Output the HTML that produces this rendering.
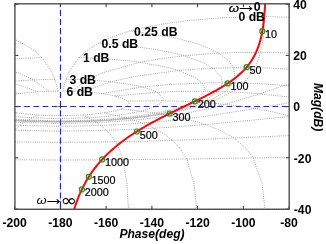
<!DOCTYPE html>
<html><head><meta charset="utf-8"><title>Nichols chart</title>
<style>
html,body{margin:0;padding:0;background:#fff;}
body{width:326px;height:244px;overflow:hidden;font-family:"Liberation Sans",sans-serif;}
svg{display:block}
text{font-family:"Liberation Sans",sans-serif;fill:#000}
.b{font-weight:bold;font-size:12.2px}
.r{font-size:10.8px;stroke:#000;stroke-width:0.2px}
.bi{font-weight:bold;font-style:italic;font-size:12.1px}
</style></head><body>
<svg width="326" height="244" viewBox="0 0 326 244">
<defs><clipPath id="c"><rect x="14.9" y="3.8" width="274.3" height="205.5"/></clipPath></defs>
<rect width="326" height="244" fill="#fff"/>

<g clip-path="url(#c)" fill="none" stroke="#8a8a8a" stroke-width="0.85" stroke-dasharray="0.9 1.3">
<path d="M58.1 91.2 L54.9 79.3 L51.6 71.5 L41.8 57.5 L35.4 51.6 L22.9 43.5 L14.1 39.1 L0.2 33.9 L-9.9 30.9 L-23.5 27.5 L-42.1 24.0 L-67.9 20.5 L-102.6 17.7 L-144.3 16.6 L-186.0 17.8 L-220.7 20.7 L-246.5 24.4 L-265.1 28.1 L-278.7 31.5 L-288.8 34.7 L-302.7 40.2 L-311.6 44.8 L-324.0 53.6 L-330.4 60.1 L-340.2 76.6 L-343.5 87.0 L-345.1 94.7 L-346.1 101.1 L-346.7 106.5 L-347.7 119.9 L-348.2 130.9 L-348.6 143.8 L-348.7 155.5 L-348.9 182.7 L-349.0 208.8"/>
<path d="M62.7 91.2 L65.9 79.3 L69.2 71.5 L79.0 57.5 L85.4 51.6 L97.8 43.5 L106.7 39.1 L120.6 33.9 L130.7 30.9 L144.2 27.5 L162.9 24.0 L188.7 20.5 L223.3 17.7 L265.1 16.6 L306.8 17.8 L341.5 20.7 L367.3 24.4 L385.9 28.1 L399.5 31.5 L409.6 34.7 L423.4 40.2 L432.3 44.8 L444.8 53.6 L451.2 60.1 L461.0 76.6 L464.2 87.0 L465.9 94.7 L466.8 101.1 L467.5 106.5 L468.5 119.9 L469.0 130.9 L469.3 143.8 L469.5 155.5 L469.7 182.7 L469.8 208.8"/>
<path d="M49.0 91.3 L33.4 79.9 L18.4 72.9 L-19.0 62.3 L-37.6 59.0 L-63.4 55.8 L-76.1 54.6 L-90.4 53.6 L-98.0 53.2 L-105.9 52.9 L-114.1 52.6 L-122.6 52.4 L-131.1 52.4 L-139.7 52.4 L-148.4 52.5 L-156.9 52.7 L-165.3 53.0 L-173.5 53.4 L-181.4 53.8 L-189.1 54.4 L-203.3 55.6 L-216.1 57.0 L-241.9 60.9 L-260.5 64.9 L-297.9 78.1 L-312.8 87.6 L-320.6 95.1 L-325.3 101.3 L-328.4 106.7 L-333.6 120.0 L-336.0 131.0 L-337.7 143.8 L-338.6 155.5 L-339.5 182.7 L-339.7 208.8"/>
<path d="M71.8 91.3 L87.4 79.9 L102.4 72.9 L139.8 62.3 L158.4 59.0 L184.2 55.8 L196.9 54.6 L211.2 53.6 L218.8 53.2 L226.7 52.9 L234.9 52.6 L243.3 52.4 L251.9 52.4 L260.5 52.4 L269.1 52.5 L277.7 52.7 L286.1 53.0 L294.3 53.4 L302.2 53.8 L309.9 54.4 L324.1 55.6 L336.9 57.0 L362.7 60.9 L381.2 64.9 L418.7 78.1 L433.6 87.6 L441.4 95.1 L446.1 101.3 L449.2 106.7 L454.4 120.0 L456.8 131.0 L458.5 143.8 L459.4 155.5 L460.3 182.7 L460.5 208.8"/>
<path d="M38.1 91.8 L9.9 81.8 L-13.6 76.5 L-57.8 70.5 L-74.0 69.3 L-92.4 68.3 L-100.3 68.0 L-108.5 67.8 L-112.6 67.8 L-116.9 67.7 L-121.1 67.7 L-125.4 67.7 L-129.7 67.7 L-134.0 67.8 L-138.3 67.8 L-142.6 67.9 L-146.9 68.1 L-151.2 68.2 L-155.4 68.4 L-159.5 68.6 L-167.7 69.0 L-175.6 69.6 L-194.0 71.2 L-210.2 73.1 L-254.4 81.6 L-277.9 89.4 L-291.5 96.2 L-300.2 102.0 L-306.1 107.2 L-316.0 120.2 L-320.8 131.1 L-324.1 143.8 L-325.9 155.5 L-327.7 182.7 L-328.2 208.8"/>
<path d="M82.7 91.8 L110.9 81.8 L134.4 76.5 L178.6 70.5 L194.8 69.3 L213.2 68.3 L221.1 68.0 L229.3 67.8 L233.4 67.8 L237.6 67.7 L241.9 67.7 L246.2 67.7 L250.5 67.7 L254.8 67.8 L259.1 67.8 L263.4 67.9 L267.7 68.1 L271.9 68.2 L276.2 68.4 L280.3 68.6 L288.5 69.0 L296.4 69.6 L314.8 71.2 L331.0 73.1 L375.2 81.6 L398.7 89.4 L412.3 96.2 L421.0 102.0 L426.9 107.2 L436.8 120.2 L441.6 131.1 L444.9 143.8 L446.7 155.5 L448.5 182.7 L449.0 208.8"/>
<path d="M19.3 93.6 L-21.7 87.0 L-47.0 84.6 L-81.3 83.0 L-91.1 82.8 L-101.4 82.8 L-105.6 82.8 L-109.8 82.8 L-111.9 82.9 L-114.0 82.9 L-116.2 82.9 L-118.3 83.0 L-120.4 83.0 L-122.6 83.1 L-124.7 83.2 L-126.9 83.2 L-129.0 83.3 L-131.1 83.4 L-133.2 83.5 L-135.4 83.6 L-139.6 83.8 L-143.8 84.0 L-154.0 84.7 L-163.9 85.5 L-198.1 89.7 L-223.5 94.6 L-241.7 99.6 L-254.8 104.4 L-264.5 108.9 L-281.9 121.0 L-290.9 131.5 L-297.2 144.1 L-300.6 155.7 L-304.1 182.8 L-305.1 208.8"/>
<path d="M101.5 93.6 L142.5 87.0 L167.8 84.6 L202.1 83.0 L211.9 82.8 L222.2 82.8 L226.3 82.8 L230.6 82.8 L232.7 82.9 L234.8 82.9 L236.9 82.9 L239.1 83.0 L241.2 83.0 L243.4 83.1 L245.5 83.2 L247.6 83.2 L249.8 83.3 L251.9 83.4 L254.0 83.5 L256.2 83.6 L260.4 83.8 L264.6 84.0 L274.8 84.7 L284.7 85.5 L318.9 89.7 L344.3 94.6 L362.5 99.6 L375.6 104.4 L385.3 108.9 L402.7 121.0 L411.7 131.5 L418.0 144.1 L421.4 155.7 L424.9 182.8 L425.9 208.8"/>
<path d="M5.8 96.0 L-36.7 92.3 L-58.2 91.4 L-83.4 91.2 L-90.2 91.3 L-97.1 91.5 L-99.9 91.6 L-102.7 91.6 L-104.1 91.7 L-105.5 91.7 L-106.9 91.8 L-108.3 91.9 L-109.7 91.9 L-111.1 92.0 L-112.5 92.0 L-114.0 92.1 L-115.4 92.2 L-116.8 92.3 L-118.2 92.3 L-119.6 92.4 L-122.4 92.6 L-125.2 92.8 L-132.1 93.2 L-138.8 93.8 L-164.1 96.6 L-185.6 99.9 L-203.0 103.7 L-217.0 107.5 L-228.0 111.3 L-249.8 122.2 L-261.8 132.2 L-270.7 144.4 L-275.5 155.9 L-280.5 182.8 L-282.0 208.9"/>
<path d="M115.0 96.0 L157.5 92.3 L179.0 91.4 L204.2 91.2 L211.0 91.3 L217.9 91.5 L220.7 91.6 L223.5 91.6 L224.9 91.7 L226.3 91.7 L227.7 91.8 L229.1 91.9 L230.5 91.9 L231.9 92.0 L233.3 92.0 L234.7 92.1 L236.1 92.2 L237.5 92.3 L239.0 92.3 L240.4 92.4 L243.2 92.6 L245.9 92.8 L252.8 93.2 L259.6 93.8 L284.9 96.6 L306.4 99.9 L323.8 103.7 L337.8 107.5 L348.8 111.3 L370.6 122.2 L382.6 132.2 L391.5 144.4 L396.3 155.9 L401.3 182.8 L402.8 208.9"/>
<path d="M-7.1 101.1 L-42.2 100.8 L-56.7 101.1 L-72.2 101.8 L-76.2 102.0 L-80.2 102.3 L-81.8 102.4 L-83.4 102.5 L-84.2 102.6 L-85.0 102.6 L-85.8 102.7 L-86.7 102.8 L-87.5 102.8 L-88.3 102.9 L-89.1 102.9 L-89.9 103.0 L-90.7 103.1 L-91.5 103.1 L-92.3 103.2 L-93.1 103.3 L-94.7 103.4 L-96.3 103.6 L-100.4 104.0 L-104.3 104.4 L-119.9 106.2 L-134.3 108.5 L-147.5 110.9 L-159.2 113.6 L-169.4 116.4 L-192.6 125.2 L-207.4 134.0 L-219.3 145.4 L-226.2 156.4 L-233.7 183.0 L-235.9 208.9"/>
<path d="M127.9 101.1 L163.0 100.8 L177.5 101.1 L193.0 101.8 L197.0 102.0 L201.0 102.3 L202.6 102.4 L204.2 102.5 L205.0 102.6 L205.8 102.6 L206.6 102.7 L207.4 102.8 L208.2 102.8 L209.1 102.9 L209.9 102.9 L210.7 103.0 L211.5 103.1 L212.3 103.1 L213.1 103.2 L213.9 103.3 L215.5 103.4 L217.1 103.6 L221.1 104.0 L225.1 104.4 L240.6 106.2 L255.1 108.5 L268.3 110.9 L279.9 113.6 L290.2 116.4 L313.3 125.2 L328.2 134.0 L340.1 145.4 L347.0 156.4 L354.5 183.0 L356.7 208.9"/>
<path d="M-0.5 109.1 L-20.3 111.1 L-27.6 112.1 L-35.0 113.1 L-36.9 113.4 L-38.8 113.7 L-39.5 113.8 L-40.3 114.0 L-40.6 114.0 L-41.0 114.1 L-41.4 114.1 L-41.8 114.2 L-42.1 114.3 L-42.5 114.3 L-42.9 114.4 L-43.3 114.5 L-43.7 114.5 L-44.0 114.6 L-44.4 114.7 L-44.8 114.7 L-45.5 114.9 L-46.3 115.0 L-48.2 115.3 L-50.1 115.7 L-57.5 117.2 L-64.7 118.8 L-71.7 120.6 L-78.3 122.5 L-84.6 124.5 L-100.8 131.0 L-113.2 138.0 L-124.8 147.9 L-132.4 157.9 L-141.3 183.5 L-144.1 209.1"/>
<path d="M121.3 109.1 L141.1 111.1 L148.4 112.1 L155.8 113.1 L157.7 113.4 L159.5 113.7 L160.3 113.8 L161.0 114.0 L161.4 114.0 L161.8 114.1 L162.2 114.1 L162.6 114.2 L162.9 114.3 L163.3 114.3 L163.7 114.4 L164.1 114.5 L164.4 114.5 L164.8 114.6 L165.2 114.7 L165.6 114.7 L166.3 114.9 L167.1 115.0 L169.0 115.3 L170.8 115.7 L178.3 117.2 L185.5 118.8 L192.5 120.6 L199.1 122.5 L205.3 124.5 L221.6 131.0 L234.0 138.0 L245.6 147.9 L253.2 157.9 L262.1 183.5 L264.9 209.1"/>
<path d="M16.6 112.9 L4.7 115.4 L0.4 116.5 L-3.9 117.6 L-5.0 117.9 L-6.0 118.2 L-6.5 118.3 L-6.9 118.5 L-7.1 118.5 L-7.3 118.6 L-7.6 118.7 L-7.8 118.7 L-8.0 118.8 L-8.2 118.8 L-8.4 118.9 L-8.7 119.0 L-8.9 119.0 L-9.1 119.1 L-9.3 119.2 L-9.5 119.2 L-10.0 119.4 L-10.4 119.5 L-11.5 119.8 L-12.6 120.2 L-16.9 121.6 L-21.1 123.1 L-25.2 124.7 L-29.2 126.4 L-33.1 128.2 L-43.4 134.0 L-51.8 140.4 L-60.3 149.5 L-66.0 159.0 L-73.3 183.8 L-75.7 209.2"/>
<path d="M104.2 112.9 L116.1 115.4 L120.3 116.5 L124.7 117.6 L125.7 117.9 L126.8 118.2 L127.3 118.3 L127.7 118.5 L127.9 118.5 L128.1 118.6 L128.4 118.7 L128.6 118.7 L128.8 118.8 L129.0 118.8 L129.2 118.9 L129.4 119.0 L129.7 119.0 L129.9 119.1 L130.1 119.2 L130.3 119.2 L130.7 119.4 L131.2 119.5 L132.3 119.8 L133.4 120.2 L137.7 121.6 L141.9 123.1 L146.0 124.7 L150.0 126.4 L153.8 128.2 L164.2 134.0 L172.6 140.4 L181.0 149.5 L186.8 159.0 L194.1 183.8 L196.5 209.2"/>
<path d="M37.7 115.0 L32.1 117.8 L30.1 118.9 L28.1 120.0 L27.6 120.3 L27.1 120.6 L26.9 120.8 L26.7 120.9 L26.6 121.0 L26.5 121.0 L26.4 121.1 L26.3 121.1 L26.2 121.2 L26.1 121.3 L26.0 121.3 L25.9 121.4 L25.8 121.5 L25.7 121.5 L25.6 121.6 L25.5 121.7 L25.3 121.8 L25.1 121.9 L24.6 122.3 L24.1 122.6 L22.1 124.0 L20.1 125.5 L18.2 127.0 L16.3 128.6 L14.4 130.3 L9.5 135.8 L5.2 141.8 L0.9 150.5 L-2.2 159.7 L-6.2 184.0 L-7.6 209.2"/>
<path d="M83.1 115.0 L88.7 117.8 L90.7 118.9 L92.7 120.0 L93.2 120.3 L93.7 120.6 L93.9 120.8 L94.1 120.9 L94.2 121.0 L94.3 121.0 L94.4 121.1 L94.5 121.1 L94.6 121.2 L94.7 121.3 L94.8 121.3 L94.9 121.4 L95.0 121.5 L95.1 121.5 L95.2 121.6 L95.3 121.7 L95.5 121.8 L95.7 121.9 L96.2 122.3 L96.7 122.6 L98.7 124.0 L100.7 125.5 L102.6 127.0 L104.5 128.6 L106.3 130.3 L111.3 135.8 L115.5 141.8 L119.9 150.5 L123.0 159.7 L127.0 184.0 L128.4 209.2"/>
<path d="M60.4 115.7 L60.4 118.5 L60.4 119.6 L60.4 120.8 L60.4 121.1 L60.4 121.4 L60.4 121.5 L60.4 121.7 L60.4 121.7 L60.4 121.8 L60.4 121.9 L60.4 121.9 L60.4 122.0 L60.4 122.0 L60.4 122.1 L60.4 122.2 L60.4 122.2 L60.4 122.3 L60.4 122.4 L60.4 122.4 L60.4 122.6 L60.4 122.7 L60.4 123.0 L60.4 123.4 L60.4 124.7 L60.4 126.2 L60.4 127.7 L60.4 129.4 L60.4 131.0 L60.4 136.4 L60.4 142.3 L60.4 150.9 L60.4 160.0 L60.4 184.1 L60.4 209.3"/>
<path d="M58.1 91.2 L55.8 91.2 L53.5 91.2 L51.2 91.3 L49.0 91.3 L43.4 91.5 L38.1 91.8 L28.1 92.6 L19.3 93.6 L11.9 94.7 L5.8 96.0 L-5.4 99.8 L-8.4 103.4 L-6.1 106.5 L-0.5 109.1 L7.3 111.2 L16.6 112.9 L26.9 114.1 L37.7 115.0 L56.6 115.6 L60.4 115.7 L64.2 115.6 L83.1 115.0 L93.9 114.1 L104.2 112.9 L113.4 111.2 L121.3 109.1 L126.9 106.5 L129.2 103.4 L126.2 99.8 L115.0 96.0 L108.9 94.7 L101.5 93.6 L92.7 92.6 L82.7 91.8 L77.3 91.5 L71.8 91.3 L69.5 91.3 L67.3 91.2 L65.0 91.2 L62.7 91.2"/>
<path d="M54.9 79.3 L49.3 79.4 L43.9 79.5 L38.6 79.7 L33.4 79.9 L21.0 80.7 L9.9 81.8 L-8.4 84.2 L-21.7 87.0 L-30.8 89.7 L-36.7 92.3 L-42.7 98.9 L-39.1 104.0 L-30.9 108.0 L-20.3 111.1 L-8.3 113.6 L4.7 115.4 L18.2 116.8 L32.1 117.8 L55.7 118.5 L60.4 118.5 L65.1 118.5 L88.7 117.8 L102.6 116.8 L116.1 115.4 L129.1 113.6 L141.1 111.1 L151.7 108.0 L159.9 104.0 L163.5 98.9 L157.5 92.3 L151.5 89.7 L142.5 87.0 L129.2 84.2 L110.9 81.8 L99.8 80.7 L87.4 79.9 L82.2 79.7 L76.9 79.5 L71.4 79.4 L65.9 79.3"/>
<path d="M41.8 57.5 L24.1 58.3 L7.8 59.4 L-6.6 60.8 L-19.0 62.3 L-42.5 66.5 L-57.8 70.5 L-74.3 77.5"/>
<path d="M-63.8 105.5 L-49.9 109.8 L-35.0 113.1 L-19.6 115.7 L-3.9 117.6 L12.1 119.0 L28.1 120.0 L55.0 120.8 L60.4 120.8 L65.8 120.8 L92.7 120.0 L108.7 119.0 L124.7 117.6 L140.4 115.7 L155.8 113.1 L170.7 109.8 L184.6 105.5 L196.7 99.6 L204.2 91.2 L204.4 87.5 L202.1 83.0 L195.1 77.5 L178.6 70.5 L163.3 66.5 L139.8 62.3 L127.3 60.8 L113.0 59.4 L96.7 58.3 L79.0 57.5"/>
<path d="M22.9 43.5 L-8.8 46.0 L-32.9 49.2 L-50.6 52.5 L-63.4 55.8"/>
<path d="M-70.3 106.0 L-54.8 110.4 L-38.8 113.7 L-22.5 116.3 L-6.0 118.2 L10.5 119.7 L27.1 120.6 L54.8 121.4 L60.4 121.4 L65.9 121.4 L93.7 120.6 L110.3 119.7 L126.8 118.2 L143.3 116.3 L159.5 113.7 L175.6 110.4 L191.1 106.0 L205.7 100.1 L217.9 91.5 L220.7 87.6 L222.2 82.8 L220.9 76.6 L213.2 68.3 L203.4 62.7 L184.2 55.8 L171.3 52.5 L153.7 49.2 L129.6 46.0 L97.8 43.5"/>
<path d="M-9.9 30.9 L-52.8 37.5 L-76.2 43.6"/>
<path d="M-73.6 106.3 L-57.2 110.7 L-40.6 114.0 L-23.9 116.6 L-7.1 118.5 L9.7 120.0 L26.6 121.0 L54.8 121.7 L60.4 121.7 L66.0 121.7 L94.2 121.0 L111.1 120.0 L127.9 118.5 L144.7 116.6 L161.4 114.0 L178.0 110.7 L194.4 106.3 L210.2 100.4 L224.9 91.7 L229.1 87.7 L232.7 82.9 L234.8 76.6 L233.4 67.8 L229.3 61.6 L218.8 53.2 L210.4 48.8 L197.0 43.6 L173.6 37.5 L130.7 30.9"/>
<path d="M-76.8 106.6 L-59.7 111.0 L-42.5 114.3 L-25.4 116.9 L-8.2 118.8 L8.9 120.3 L26.1 121.3 L54.7 122.0 L60.4 122.0 L66.1 122.0 L94.7 121.3 L111.9 120.3 L129.0 118.8 L146.2 116.9 L163.3 114.3 L180.5 111.0 L197.6 106.6 L214.8 100.7 L231.9 92.0 L237.6 88.0 L243.4 83.1 L249.1 76.8 L254.8 67.8 L257.7 61.4 L260.5 52.4 L261.7 47.4 L262.8 41.0 L263.9 32.0 L265.1 16.6"/>
<path d="M-69.5 112.4 L-50.1 115.7 L-31.2 118.2 L-12.6 120.2 L5.8 121.6 L24.1 122.6 L54.3 123.3 L60.4 123.4 L66.4 123.3 L96.7 122.6 L115.0 121.6 L133.4 120.2 L151.9 118.2 L170.8 115.7 L190.3 112.4 L210.6 108.1 L232.8 102.2 L259.6 93.8 L270.9 90.0 L284.7 85.5 L303.0 80.0 L331.0 73.1 L352.0 69.0 L381.2 64.9 L396.0 63.3"/>
<path d="M-64.7 118.8 L-42.5 121.3 L-21.1 123.1 L-0.3 124.5 L20.1 125.5 L53.7 126.2 L60.4 126.2 L67.1 126.2 L100.7 125.5 L121.1 124.5 L141.9 123.1 L163.3 121.3 L185.5 118.8 L209.2 115.7 L235.3 111.7 L266.1 106.6 L306.4 99.9 L323.7 97.4 L344.3 94.6 L368.9 91.9 L398.7 89.4"/>
<path d="M-84.6 124.5 L-58.1 126.6 L-33.1 128.2 L-9.0 129.5 L14.4 130.3 L52.8 131.0 L60.4 131.0 L68.0 131.0 L106.3 130.3 L129.8 129.5 L153.8 128.2 L178.9 126.6 L205.3 124.5 L234.0 121.9 L266.0 118.8 L303.4 115.2 L348.8 111.3 L366.4 110.1 L385.3 108.9 L405.5 107.9"/>
<path d="M-81.8 139.3 L-51.8 140.4 L-22.9 141.2 L5.2 141.8 L51.3 142.3 L60.4 142.3 L69.5 142.3 L115.5 141.8 L143.7 141.2 L172.6 140.4 L202.6 139.3 L234.0 138.0 L267.3 136.6 L302.9 135.0 L341.3 133.5 L382.6 132.2 L397.0 131.8"/>
<path d="M-66.0 159.0 L-33.9 159.4 L-2.2 159.7 L50.0 160.0 L60.4 160.0 L70.8 160.0 L123.0 159.7 L154.7 159.4 L186.8 159.0 L219.6 158.5 L253.2 157.9 L287.6 157.4 L322.9 156.8 L359.2 156.3 L396.3 155.9"/>
<path d="M-75.7 209.2 L-41.6 209.2 L-7.6 209.2 L49.1 209.3 L60.4 209.3 L71.7 209.3 L128.4 209.2 L162.4 209.2 L196.5 209.2 L230.7 209.1 L264.9 209.1 L299.3 209.0 L333.7 208.9 L368.2 208.9 L402.8 208.9"/>
</g>
<path d="M14.7 209.3 v-3.4 M14.7 3.8 v3.4 M60.4 209.3 v-3.4 M60.4 3.8 v3.4 M106.1 209.3 v-3.4 M106.1 3.8 v3.4 M151.9 209.3 v-3.4 M151.9 3.8 v3.4 M197.6 209.3 v-3.4 M197.6 3.8 v3.4 M243.4 209.3 v-3.4 M243.4 3.8 v3.4 M289.1 209.3 v-3.4 M289.1 3.8 v3.4 M14.9 209.1 h3.4 M289.2 209.1 h-3.4 M14.9 157.8 h3.4 M289.2 157.8 h-3.4 M14.9 106.6 h3.4 M289.2 106.6 h-3.4 M14.9 55.4 h3.4 M289.2 55.4 h-3.4 M14.9 4.2 h3.4 M289.2 4.2 h-3.4" stroke="#333" stroke-width="1" fill="none"/>
<g clip-path="url(#c)" stroke="#2020ff" stroke-width="1.2" fill="none">
<path d="M60.5 0.67 V210" stroke-dasharray="6.1 3.03"/>
<path d="M15 106.5 H290" stroke-dasharray="5.7 3.5"/>
</g>
<path d="M58.4 106.5 h4.2 M60.5 104.4 v4.2" stroke="#333" stroke-width="0.9" fill="none"/>
<g clip-path="url(#c)"><path d="M266.0 -25.7 L266.0 -25.5 L266.0 -25.3 L266.0 -25.1 L266.0 -24.9 L266.0 -24.7 L266.0 -24.5 L266.0 -24.3 L265.9 -24.1 L265.9 -23.9 L265.9 -23.7 L265.9 -23.5 L265.9 -23.3 L265.9 -23.1 L265.9 -22.8 L265.9 -22.6 L265.9 -22.4 L265.9 -22.2 L265.9 -22.0 L265.9 -21.8 L265.9 -21.6 L265.9 -21.4 L265.9 -21.2 L265.9 -21.0 L265.9 -20.8 L265.9 -20.6 L265.9 -20.4 L265.9 -20.2 L265.9 -20.0 L265.9 -19.8 L265.9 -19.6 L265.9 -19.4 L265.9 -19.2 L265.9 -19.0 L265.9 -18.7 L265.9 -18.5 L265.9 -18.3 L265.8 -18.1 L265.8 -17.9 L265.8 -17.7 L265.8 -17.5 L265.8 -17.3 L265.8 -17.1 L265.8 -16.9 L265.8 -16.7 L265.8 -16.5 L265.8 -16.3 L265.8 -16.1 L265.8 -15.9 L265.8 -15.7 L265.8 -15.5 L265.8 -15.3 L265.8 -15.1 L265.8 -14.9 L265.8 -14.6 L265.8 -14.4 L265.8 -14.2 L265.8 -14.0 L265.8 -13.8 L265.7 -13.6 L265.7 -13.4 L265.7 -13.2 L265.7 -13.0 L265.7 -12.8 L265.7 -12.6 L265.7 -12.4 L265.7 -12.2 L265.7 -12.0 L265.7 -11.8 L265.7 -11.6 L265.7 -11.4 L265.7 -11.2 L265.7 -11.0 L265.7 -10.8 L265.7 -10.5 L265.7 -10.3 L265.7 -10.1 L265.7 -9.9 L265.6 -9.7 L265.6 -9.5 L265.6 -9.3 L265.6 -9.1 L265.6 -8.9 L265.6 -8.7 L265.6 -8.5 L265.6 -8.3 L265.6 -8.1 L265.6 -7.9 L265.6 -7.7 L265.6 -7.5 L265.6 -7.3 L265.6 -7.1 L265.6 -6.9 L265.6 -6.7 L265.5 -6.4 L265.5 -6.2 L265.5 -6.0 L265.5 -5.8 L265.5 -5.6 L265.5 -5.4 L265.5 -5.2 L265.5 -5.0 L265.5 -4.8 L265.5 -4.6 L265.5 -4.4 L265.5 -4.2 L265.5 -4.0 L265.5 -3.8 L265.4 -3.6 L265.4 -3.4 L265.4 -3.2 L265.4 -3.0 L265.4 -2.8 L265.4 -2.6 L265.4 -2.3 L265.4 -2.1 L265.4 -1.9 L265.4 -1.7 L265.4 -1.5 L265.4 -1.3 L265.4 -1.1 L265.3 -0.9 L265.3 -0.7 L265.3 -0.5 L265.3 -0.3 L265.3 -0.1 L265.3 0.1 L265.3 0.3 L265.3 0.5 L265.3 0.7 L265.3 0.9 L265.3 1.1 L265.2 1.3 L265.2 1.5 L265.2 1.8 L265.2 2.0 L265.2 2.2 L265.2 2.4 L265.2 2.6 L265.2 2.8 L265.2 3.0 L265.2 3.2 L265.1 3.4 L265.1 3.6 L265.1 3.8 L265.1 4.0 L265.1 4.2 L265.1 4.4 L265.1 4.6 L265.1 4.8 L265.1 5.0 L265.0 5.2 L265.0 5.4 L265.0 5.6 L265.0 5.9 L265.0 6.1 L265.0 6.3 L265.0 6.5 L265.0 6.7 L264.9 6.9 L264.9 7.1 L264.9 7.3 L264.9 7.5 L264.9 7.7 L264.9 7.9 L264.9 8.1 L264.9 8.3 L264.8 8.5 L264.8 8.7 L264.8 8.9 L264.8 9.1 L264.8 9.3 L264.8 9.5 L264.8 9.7 L264.8 10.0 L264.7 10.2 L264.7 10.4 L264.7 10.6 L264.7 10.8 L264.7 11.0 L264.7 11.2 L264.7 11.4 L264.6 11.6 L264.6 11.8 L264.6 12.0 L264.6 12.2 L264.6 12.4 L264.6 12.6 L264.5 12.8 L264.5 13.0 L264.5 13.2 L264.5 13.4 L264.5 13.6 L264.5 13.8 L264.4 14.1 L264.4 14.3 L264.4 14.5 L264.4 14.7 L264.4 14.9 L264.4 15.1 L264.3 15.3 L264.3 15.5 L264.3 15.7 L264.3 15.9 L264.3 16.1 L264.2 16.3 L264.2 16.5 L264.2 16.7 L264.2 16.9 L264.2 17.1 L264.2 17.3 L264.1 17.5 L264.1 17.7 L264.1 17.9 L264.1 18.2 L264.1 18.4 L264.0 18.6 L264.0 18.8 L264.0 19.0 L264.0 19.2 L263.9 19.4 L263.9 19.6 L263.9 19.8 L263.9 20.0 L263.9 20.2 L263.8 20.4 L263.8 20.6 L263.8 20.8 L263.8 21.0 L263.7 21.2 L263.7 21.4 L263.7 21.6 L263.7 21.8 L263.6 22.0 L263.6 22.3 L263.6 22.5 L263.6 22.7 L263.5 22.9 L263.5 23.1 L263.5 23.3 L263.5 23.5 L263.4 23.7 L263.4 23.9 L263.4 24.1 L263.4 24.3 L263.3 24.5 L263.3 24.7 L263.3 24.9 L263.3 25.1 L263.2 25.3 L263.2 25.5 L263.2 25.7 L263.1 25.9 L263.1 26.2 L263.1 26.4 L263.1 26.6 L263.0 26.8 L263.0 27.0 L263.0 27.2 L262.9 27.4 L262.9 27.6 L262.9 27.8 L262.8 28.0 L262.8 28.2 L262.8 28.4 L262.7 28.6 L262.7 28.8 L262.7 29.0 L262.6 29.2 L262.6 29.4 L262.6 29.6 L262.5 29.8 L262.5 30.0 L262.5 30.3 L262.4 30.5 L262.4 30.7 L262.4 30.9 L262.3 31.1 L262.3 31.3 L262.3 31.5 L262.2 31.7 L262.2 31.9 L262.1 32.1 L262.1 32.3 L262.1 32.5 L262.0 32.7 L262.0 32.9 L262.0 33.1 L261.9 33.3 L261.9 33.5 L261.8 33.7 L261.8 33.9 L261.7 34.2 L261.7 34.4 L261.7 34.6 L261.6 34.8 L261.6 35.0 L261.5 35.2 L261.5 35.4 L261.4 35.6 L261.4 35.8 L261.4 36.0 L261.3 36.2 L261.3 36.4 L261.2 36.6 L261.2 36.8 L261.1 37.0 L261.1 37.2 L261.0 37.4 L261.0 37.6 L260.9 37.8 L260.9 38.1 L260.8 38.3 L260.8 38.5 L260.7 38.7 L260.7 38.9 L260.6 39.1 L260.6 39.3 L260.5 39.5 L260.5 39.7 L260.4 39.9 L260.4 40.1 L260.3 40.3 L260.3 40.5 L260.2 40.7 L260.1 40.9 L260.1 41.1 L260.0 41.3 L260.0 41.5 L259.9 41.8 L259.9 42.0 L259.8 42.2 L259.7 42.4 L259.7 42.6 L259.6 42.8 L259.5 43.0 L259.5 43.2 L259.4 43.4 L259.4 43.6 L259.3 43.8 L259.2 44.0 L259.2 44.2 L259.1 44.4 L259.0 44.6 L259.0 44.8 L258.9 45.0 L258.8 45.2 L258.8 45.5 L258.7 45.7 L258.6 45.9 L258.6 46.1 L258.5 46.3 L258.4 46.5 L258.3 46.7 L258.3 46.9 L258.2 47.1 L258.1 47.3 L258.0 47.5 L258.0 47.7 L257.9 47.9 L257.8 48.1 L257.7 48.3 L257.7 48.5 L257.6 48.7 L257.5 48.9 L257.4 49.2 L257.3 49.4 L257.2 49.6 L257.2 49.8 L257.1 50.0 L257.0 50.2 L256.9 50.4 L256.8 50.6 L256.7 50.8 L256.6 51.0 L256.6 51.2 L256.5 51.4 L256.4 51.6 L256.3 51.8 L256.2 52.0 L256.1 52.2 L256.0 52.5 L255.9 52.7 L255.8 52.9 L255.7 53.1 L255.6 53.3 L255.5 53.5 L255.4 53.7 L255.3 53.9 L255.2 54.1 L255.1 54.3 L255.0 54.5 L254.9 54.7 L254.8 54.9 L254.7 55.1 L254.6 55.3 L254.5 55.5 L254.4 55.8 L254.3 56.0 L254.2 56.2 L254.1 56.4 L253.9 56.6 L253.8 56.8 L253.7 57.0 L253.6 57.2 L253.5 57.4 L253.4 57.6 L253.2 57.8 L253.1 58.0 L253.0 58.2 L252.9 58.4 L252.8 58.7 L252.6 58.9 L252.5 59.1 L252.4 59.3 L252.3 59.5 L252.1 59.7 L252.0 59.9 L251.9 60.1 L251.7 60.3 L251.6 60.5 L251.5 60.7 L251.3 60.9 L251.2 61.1 L251.1 61.3 L250.9 61.6 L250.8 61.8 L250.6 62.0 L250.5 62.2 L250.3 62.4 L250.2 62.6 L250.0 62.8 L249.9 63.0 L249.7 63.2 L249.6 63.4 L249.4 63.6 L249.3 63.8 L249.1 64.1 L249.0 64.3 L248.8 64.5 L248.7 64.7 L248.5 64.9 L248.3 65.1 L248.2 65.3 L248.0 65.5 L247.8 65.7 L247.7 65.9 L247.5 66.1 L247.3 66.4 L247.2 66.6 L247.0 66.8 L246.8 67.0 L246.6 67.2 L246.4 67.4 L246.3 67.6 L246.1 67.8 L245.9 68.0 L245.7 68.2 L245.5 68.4 L245.3 68.7 L245.1 68.9 L245.0 69.1 L244.8 69.3 L244.6 69.5 L244.4 69.7 L244.2 69.9 L244.0 70.1 L243.8 70.3 L243.6 70.6 L243.4 70.8 L243.1 71.0 L242.9 71.2 L242.7 71.4 L242.5 71.6 L242.3 71.8 L242.1 72.0 L241.9 72.2 L241.6 72.5 L241.4 72.7 L241.2 72.9 L241.0 73.1 L240.7 73.3 L240.5 73.5 L240.3 73.7 L240.0 73.9 L239.8 74.2 L239.6 74.4 L239.3 74.6 L239.1 74.8 L238.8 75.0 L238.6 75.2 L238.3 75.4 L238.1 75.7 L237.8 75.9 L237.6 76.1 L237.3 76.3 L237.1 76.5 L236.8 76.7 L236.5 76.9 L236.3 77.2 L236.0 77.4 L235.7 77.6 L235.5 77.8 L235.2 78.0 L234.9 78.2 L234.6 78.5 L234.4 78.7 L234.1 78.9 L233.8 79.1 L233.5 79.3 L233.2 79.5 L232.9 79.8 L232.6 80.0 L232.3 80.2 L232.0 80.4 L231.7 80.6 L231.4 80.9 L231.1 81.1 L230.8 81.3 L230.5 81.5 L230.2 81.7 L229.8 82.0 L229.5 82.2 L229.2 82.4 L228.9 82.6 L228.6 82.8 L228.2 83.1 L227.9 83.3 L227.6 83.5 L227.2 83.7 L226.9 83.9 L226.5 84.2 L226.2 84.4 L225.8 84.6 L225.5 84.8 L225.1 85.1 L224.8 85.3 L224.4 85.5 L224.1 85.7 L223.7 86.0 L223.3 86.2 L223.0 86.4 L222.6 86.6 L222.2 86.9 L221.8 87.1 L221.5 87.3 L221.1 87.6 L220.7 87.8 L220.3 88.0 L219.9 88.2 L219.5 88.5 L219.1 88.7 L218.7 88.9 L218.3 89.2 L217.9 89.4 L217.5 89.6 L217.1 89.9 L216.7 90.1 L216.3 90.3 L215.8 90.6 L215.4 90.8 L215.0 91.0 L214.6 91.3 L214.1 91.5 L213.7 91.7 L213.3 92.0 L212.8 92.2 L212.4 92.4 L211.9 92.7 L211.5 92.9 L211.1 93.2 L210.6 93.4 L210.1 93.6 L209.7 93.9 L209.2 94.1 L208.8 94.4 L208.3 94.6 L207.8 94.9 L207.4 95.1 L206.9 95.3 L206.4 95.6 L205.9 95.8 L205.4 96.1 L205.0 96.3 L204.5 96.6 L204.0 96.8 L203.5 97.1 L203.0 97.3 L202.5 97.6 L202.0 97.8 L201.5 98.1 L201.0 98.3 L200.5 98.6 L200.0 98.8 L199.5 99.1 L198.9 99.3 L198.4 99.6 L197.9 99.8 L197.4 100.1 L196.8 100.4 L196.3 100.6 L195.8 100.9 L195.3 101.1 L194.7 101.4 L194.2 101.6 L193.6 101.9 L193.1 102.2 L192.6 102.4 L192.0 102.7 L191.5 103.0 L190.9 103.2 L190.4 103.5 L189.8 103.8 L189.3 104.0 L188.7 104.3 L188.1 104.6 L187.6 104.8 L187.0 105.1 L186.4 105.4 L185.9 105.6 L185.3 105.9 L184.7 106.2 L184.2 106.5 L183.6 106.7 L183.0 107.0 L182.4 107.3 L181.9 107.6 L181.3 107.9 L180.7 108.1 L180.1 108.4 L179.5 108.7 L178.9 109.0 L178.3 109.3 L177.8 109.6 L177.2 109.8 L176.6 110.1 L176.0 110.4 L175.4 110.7 L174.8 111.0 L174.2 111.3 L173.6 111.6 L173.0 111.9 L172.4 112.2 L171.8 112.5 L171.2 112.7 L170.6 113.0 L170.0 113.3 L169.4 113.6 L168.8 113.9 L168.2 114.2 L167.6 114.5 L167.0 114.8 L166.4 115.1 L165.8 115.4 L165.2 115.7 L164.6 116.1 L164.0 116.4 L163.4 116.7 L162.8 117.0 L162.2 117.3 L161.6 117.6 L161.0 117.9 L160.4 118.2 L159.8 118.5 L159.2 118.8 L158.6 119.2 L158.0 119.5 L157.4 119.8 L156.8 120.1 L156.2 120.4 L155.6 120.7 L155.0 121.1 L154.4 121.4 L153.8 121.7 L153.2 122.0 L152.6 122.3 L152.0 122.7 L151.4 123.0 L150.8 123.3 L150.2 123.7 L149.6 124.0 L149.0 124.3 L148.4 124.6 L147.8 125.0 L147.2 125.3 L146.7 125.6 L146.1 126.0 L145.5 126.3 L144.9 126.6 L144.3 127.0 L143.8 127.3 L143.2 127.7 L142.6 128.0 L142.0 128.3 L141.5 128.7 L140.9 129.0 L140.3 129.4 L139.8 129.7 L139.2 130.0 L138.6 130.4 L138.1 130.7 L137.5 131.1 L137.0 131.4 L136.4 131.8 L135.9 132.1 L135.3 132.5 L134.8 132.8 L134.2 133.2 L133.7 133.5 L133.1 133.9 L132.6 134.2 L132.0 134.6 L131.5 134.9 L131.0 135.3 L130.4 135.7 L129.9 136.0 L129.4 136.4 L128.9 136.7 L128.3 137.1 L127.8 137.4 L127.3 137.8 L126.8 138.2 L126.3 138.5 L125.8 138.9 L125.3 139.3 L124.8 139.6 L124.3 140.0 L123.8 140.4 L123.3 140.7 L122.8 141.1 L122.3 141.5 L121.8 141.8 L121.3 142.2 L120.8 142.6 L120.4 142.9 L119.9 143.3 L119.4 143.7 L118.9 144.0 L118.5 144.4 L118.0 144.8 L117.5 145.2 L117.1 145.5 L116.6 145.9 L116.2 146.3 L115.7 146.7 L115.3 147.0 L114.8 147.4 L114.4 147.8 L113.9 148.2 L113.5 148.5 L113.1 148.9 L112.6 149.3 L112.2 149.7 L111.8 150.1 L111.3 150.4 L110.9 150.8 L110.5 151.2 L110.1 151.6 L109.7 152.0 L109.3 152.3 L108.8 152.7 L108.4 153.1 L108.0 153.5 L107.6 153.9 L107.2 154.3 L106.8 154.7 L106.5 155.0 L106.1 155.4 L105.7 155.8 L105.3 156.2 L104.9 156.6 L104.5 157.0 L104.2 157.4 L103.8 157.7 L103.4 158.1 L103.1 158.5 L102.7 158.9 L102.3 159.3 L102.0 159.7 L101.6 160.1 L101.3 160.5 L100.9 160.9 L100.6 161.3 L100.2 161.6 L99.9 162.0 L99.5 162.4 L99.2 162.8 L98.9 163.2 L98.5 163.6 L98.2 164.0 L97.9 164.4 L97.5 164.8 L97.2 165.2 L96.9 165.6 L96.6 166.0 L96.3 166.4 L96.0 166.8 L95.6 167.2 L95.3 167.6 L95.0 168.0 L94.7 168.3 L94.4 168.7 L94.1 169.1 L93.8 169.5 L93.5 169.9 L93.2 170.3 L93.0 170.7 L92.7 171.1 L92.4 171.5 L92.1 171.9 L91.8 172.3 L91.6 172.7 L91.3 173.1 L91.0 173.5 L90.7 173.9 L90.5 174.3 L90.2 174.7 L89.9 175.1 L89.7 175.5 L89.4 175.9 L89.2 176.3 L88.9 176.7 L88.6 177.1 L88.4 177.5 L88.1 177.9 L87.9 178.3 L87.7 178.7 L87.4 179.1 L87.2 179.5 L86.9 179.9 L86.7 180.3 L86.5 180.7 L86.2 181.1 L86.0 181.5 L85.8 181.9 L85.5 182.3 L85.3 182.7 L85.1 183.1 L84.9 183.5 L84.7 183.9 L84.4 184.4 L84.2 184.8 L84.0 185.2 L83.8 185.6 L83.6 186.0 L83.4 186.4 L83.2 186.8 L83.0 187.2 L82.8 187.6 L82.6 188.0 L82.4 188.4 L82.2 188.8 L82.0 189.2 L81.8 189.6 L81.6 190.0 L81.4 190.4 L81.2 190.8 L81.0 191.2 L80.8 191.6 L80.7 192.0 L80.5 192.4 L80.3 192.8 L80.1 193.2 L79.9 193.7 L79.8 194.1 L79.6 194.5 L79.4 194.9 L79.2 195.3 L79.1 195.7 L78.9 196.1 L78.7 196.5 L78.6 196.9 L78.4 197.3 L78.2 197.7 L78.1 198.1 L77.9 198.5 L77.8 198.9 L77.6 199.3 L77.4 199.7 L77.3 200.1 L77.1 200.6 L77.0 201.0 L76.8 201.4 L76.7 201.8 L76.5 202.2 L76.4 202.6 L76.2 203.0 L76.1 203.4 L76.0 203.8 L75.8 204.2 L75.7 204.6 L75.5 205.0 L75.4 205.4 L75.3 205.8 L75.1 206.3 L75.0 206.7 L74.9 207.1 L74.7 207.5 L74.6 207.9 L74.5 208.3 L74.4 208.7 L74.2 209.1 L74.1 209.5 L74.0 209.9 L73.9 210.3 L73.7 210.7 L73.6 211.1 L73.5 211.6 L73.4 212.0 L73.3 212.4 L73.1 212.8 L73.0 213.2 L72.9 213.6 L72.8 214.0 L72.7 214.4 L72.6 214.8 L72.5 215.2 L72.3 215.6 L72.2 216.0 L72.1 216.5 L72.0 216.9 L71.9 217.3 L71.8 217.7 L71.7 218.1 L71.6 218.5 L71.5 218.9 L71.4 219.3 L71.3 219.7 L71.2 220.1 L71.1 220.5 L71.0 220.9 L70.9 221.4 L70.8 221.8 L70.7 222.2 L70.6 222.6 L70.5 223.0 L70.4 223.4 L70.3 223.8 L70.3 224.2 L70.2 224.6 L70.1 225.0 L70.0 225.4 L69.9 225.9 L69.8 226.3 L69.7 226.7 L69.6 227.1 L69.6 227.5 L69.5 227.9 L69.4 228.3 L69.3 228.7 L69.2 229.1 L69.2 229.5 L69.1 229.9 L69.0 230.4 L68.9 230.8 L68.8 231.2 L68.8 231.6 L68.7 232.0 L68.6 232.4 L68.5 232.8 L68.5 233.2 L68.4 233.6 L68.3 234.0 L68.2 234.4 L68.2 234.9 L68.1 235.3 L68.0 235.7 L68.0 236.1 L67.9 236.5 L67.8 236.9 L67.8 237.3 L67.7 237.7 L67.6 238.1 L67.6 238.5 L67.5 238.9 " fill="none" stroke="#f20a0a" stroke-width="2"/></g>
<rect x="14.9" y="3.8" width="274.3" height="205.5" fill="none" stroke="#505050" stroke-width="1.4"/>
<circle cx="262.3" cy="31.2" r="2.5" fill="none" stroke="#1c961c" stroke-width="1.2"/>
<circle cx="246.6" cy="67.2" r="2.5" fill="none" stroke="#1c961c" stroke-width="1.2"/>
<circle cx="227.7" cy="83.4" r="2.5" fill="none" stroke="#1c961c" stroke-width="1.2"/>
<circle cx="194.9" cy="101.3" r="2.5" fill="none" stroke="#1c961c" stroke-width="1.2"/>
<circle cx="169.6" cy="113.5" r="2.5" fill="none" stroke="#1c961c" stroke-width="1.2"/>
<circle cx="136.9" cy="131.5" r="2.5" fill="none" stroke="#1c961c" stroke-width="1.2"/>
<circle cx="102.2" cy="159.4" r="2.5" fill="none" stroke="#1c961c" stroke-width="1.2"/>
<circle cx="88.8" cy="176.8" r="2.5" fill="none" stroke="#1c961c" stroke-width="1.2"/>
<circle cx="81.9" cy="189.4" r="2.5" fill="none" stroke="#1c961c" stroke-width="1.2"/>
<text class="r" x="265.1" y="38.2">10</text>
<text class="r" x="249.4" y="74.2">50</text>
<text class="r" x="230.5" y="90.4">100</text>
<text class="r" x="197.7" y="108.3">200</text>
<text class="r" x="172.4" y="120.5">300</text>
<text class="r" x="139.7" y="138.5">500</text>
<text class="r" x="105.0" y="166.4">1000</text>
<text class="r" x="91.6" y="183.8">1500</text>
<text class="r" x="84.7" y="196.4">2000</text>
<text class="b" text-anchor="middle" x="14.7" y="226.6">-200</text>
<text class="b" text-anchor="middle" x="60.4" y="226.6">-180</text>
<text class="b" text-anchor="middle" x="106.1" y="226.6">-160</text>
<text class="b" text-anchor="middle" x="151.9" y="226.6">-140</text>
<text class="b" text-anchor="middle" x="197.6" y="226.6">-120</text>
<text class="b" text-anchor="middle" x="243.4" y="226.6">-100</text>
<text class="b" text-anchor="middle" x="289.1" y="226.6">-80</text>
<text class="b" x="293.8" y="213.8">-40</text>
<text class="b" x="293.8" y="162.5">-20</text>
<text class="b" x="293.2" y="111.3">0</text>
<text class="b" x="293.2" y="60.1">20</text>
<text class="b" x="293.2" y="8.9">40</text>
<text class="b" x="134.1" y="35.6">0.25 dB</text>
<text class="b" x="101.6" y="48.4">0.5 dB</text>
<text class="b" x="83.0" y="62.0">1 dB</text>
<text class="b" x="69.5" y="83.9">3 dB</text>
<text class="b" x="66.5" y="96.0">6 dB</text>
<text class="b" x="238.5" y="20.8">0 dB</text>
<text class="bi" text-anchor="middle" x="152" y="238.2">Phase(deg)</text>
<text class="bi" text-anchor="middle" transform="translate(313.7 107.1) rotate(90)" x="0" y="0">Mag(dB)</text>
<text transform="translate(36.4 204.2) scale(1.08 0.9)" style="font-style:italic;font-size:12px">ω</text>
<text x="43.1" y="204.9" style="font-size:21.3px">→</text>
<text transform="translate(60.6 206) scale(1.17 0.96)" style="font-size:17px;font-family:'DejaVu Sans',sans-serif">∞</text>
<text transform="translate(228.8 11.5) scale(1.09 0.87)" style="font-style:italic;font-size:12px;stroke:#000;stroke-width:0.25px">ω</text>
<text x="235.2" y="12.4" style="font-size:21.5px">→</text>
<text x="253.8" y="10.9" style="font-weight:bold;font-size:12.4px">0</text>
</svg></body></html>
